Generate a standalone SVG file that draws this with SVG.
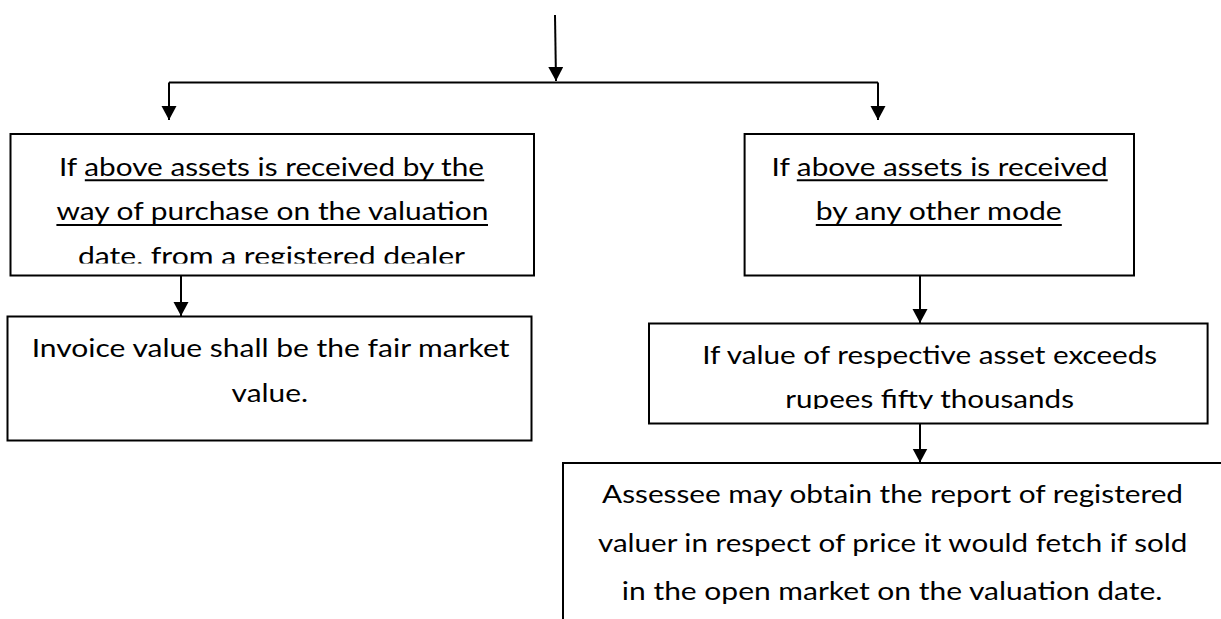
<svg xmlns="http://www.w3.org/2000/svg" width="1221" height="619" viewBox="0 0 1221 619">
  <defs>
    <style>
      .box { fill: #ffffff; stroke: #000000; stroke-width: 2; }
      .edge { fill: none; stroke: #000000; stroke-width: 2; }
      .lbl { font-family: Lato, "Open Sans", "Liberation Sans", sans-serif; font-size: 25px; fill: #000000; }
      .ul { stroke: #000000; stroke-width: 2; }
    </style>
    <marker id="arrow" markerUnits="userSpaceOnUse" markerWidth="16" markerHeight="16" refX="14" refY="7.5" orient="auto">
      <path d="M0,0 L14,7.5 L0,15 Z" fill="#000000"/>
    </marker>
    <!-- text areas are cut off at the lower edge of the frame -->
    <clipPath id="clip-purchase"><rect x="10" y="134" width="524" height="129.5"/></clipPath>
    <clipPath id="clip-exceeds"><rect x="649" y="323" width="559" height="86"/></clipPath>
  </defs>

  <!-- connectors -->
  <g id="connectors">
    <path class="edge" d="M555,15 L556,81" marker-end="url(#arrow)"/>
    <path class="edge" d="M169,82.5 L878,82.5"/>
    <path class="edge" d="M169,82.5 L169,120" marker-end="url(#arrow)"/>
    <path class="edge" d="M878,82.5 L878,120" marker-end="url(#arrow)"/>
    <path class="edge" d="M181,275.5 L181,316" marker-end="url(#arrow)"/>
    <path class="edge" d="M920,275.5 L920,323" marker-end="url(#arrow)"/>
    <path class="edge" d="M920,423.5 L920,462.5" marker-end="url(#arrow)"/>
  </g>

  <!-- received by purchase from a registered dealer -->
  <g id="node-purchase">
    <rect class="box" x="10.5" y="134" width="523.5" height="141.5"/>
    <g clip-path="url(#clip-purchase)">
      <text class="lbl" x="59" y="175.7" textLength="425" lengthAdjust="spacingAndGlyphs">If above assets is received by the</text>
      <text class="lbl" x="56.4" y="220" textLength="432" lengthAdjust="spacingAndGlyphs">way of purchase on the valuation</text>
      <text class="lbl" x="78" y="265" textLength="387" lengthAdjust="spacingAndGlyphs">date, from a registered dealer</text>
    </g>
    <line class="ul" x1="84.8" y1="180.3" x2="484.2" y2="180.3"/>
    <line class="ul" x1="56.4" y1="225" x2="488" y2="225"/>
  </g>

  <!-- received by any other mode -->
  <g id="node-other-mode">
    <rect class="box" x="744.6" y="134" width="389.4" height="141.5"/>
    <text class="lbl" x="771.5" y="175.7" textLength="336.2" lengthAdjust="spacingAndGlyphs">If above assets is received</text>
    <text class="lbl" x="815.8" y="220" textLength="246" lengthAdjust="spacingAndGlyphs">by any other mode</text>
    <line class="ul" x1="796.8" y1="180.3" x2="1107.7" y2="180.3"/>
    <line class="ul" x1="815.8" y1="225" x2="1061.8" y2="225"/>
  </g>

  <!-- invoice value -->
  <g id="node-invoice">
    <rect class="box" x="7.5" y="316.5" width="524" height="124"/>
    <text class="lbl" x="31.7" y="357.3" textLength="477.8" lengthAdjust="spacingAndGlyphs">Invoice value shall be the fair market</text>
    <text class="lbl" x="231.6" y="401.7" textLength="76.4" lengthAdjust="spacingAndGlyphs">value.</text>
  </g>

  <!-- value above fifty thousand -->
  <g id="node-exceeds">
    <rect class="box" x="649" y="323.5" width="558.6" height="100"/>
    <g clip-path="url(#clip-exceeds)">
      <text class="lbl" x="702.2" y="364.3" textLength="455" lengthAdjust="spacingAndGlyphs">If value of respective asset exceeds</text>
      <text class="lbl" x="785.3" y="408.3" textLength="288.7" lengthAdjust="spacingAndGlyphs">rupees fifty thousands</text>
    </g>
  </g>

  <!-- registered valuer report -->
  <g id="node-valuer">
    <path class="edge" d="M563,625 L563,463 L1225,463"/>
    <text class="lbl" x="602" y="502.7" textLength="581" lengthAdjust="spacingAndGlyphs">Assessee may obtain the report of registered</text>
    <text class="lbl" x="598" y="551.7" textLength="589.3" lengthAdjust="spacingAndGlyphs">valuer in respect of price it would fetch if sold</text>
    <text class="lbl" x="621.8" y="600" textLength="540.6" lengthAdjust="spacingAndGlyphs">in the open market on the valuation date.</text>
  </g>
</svg>
